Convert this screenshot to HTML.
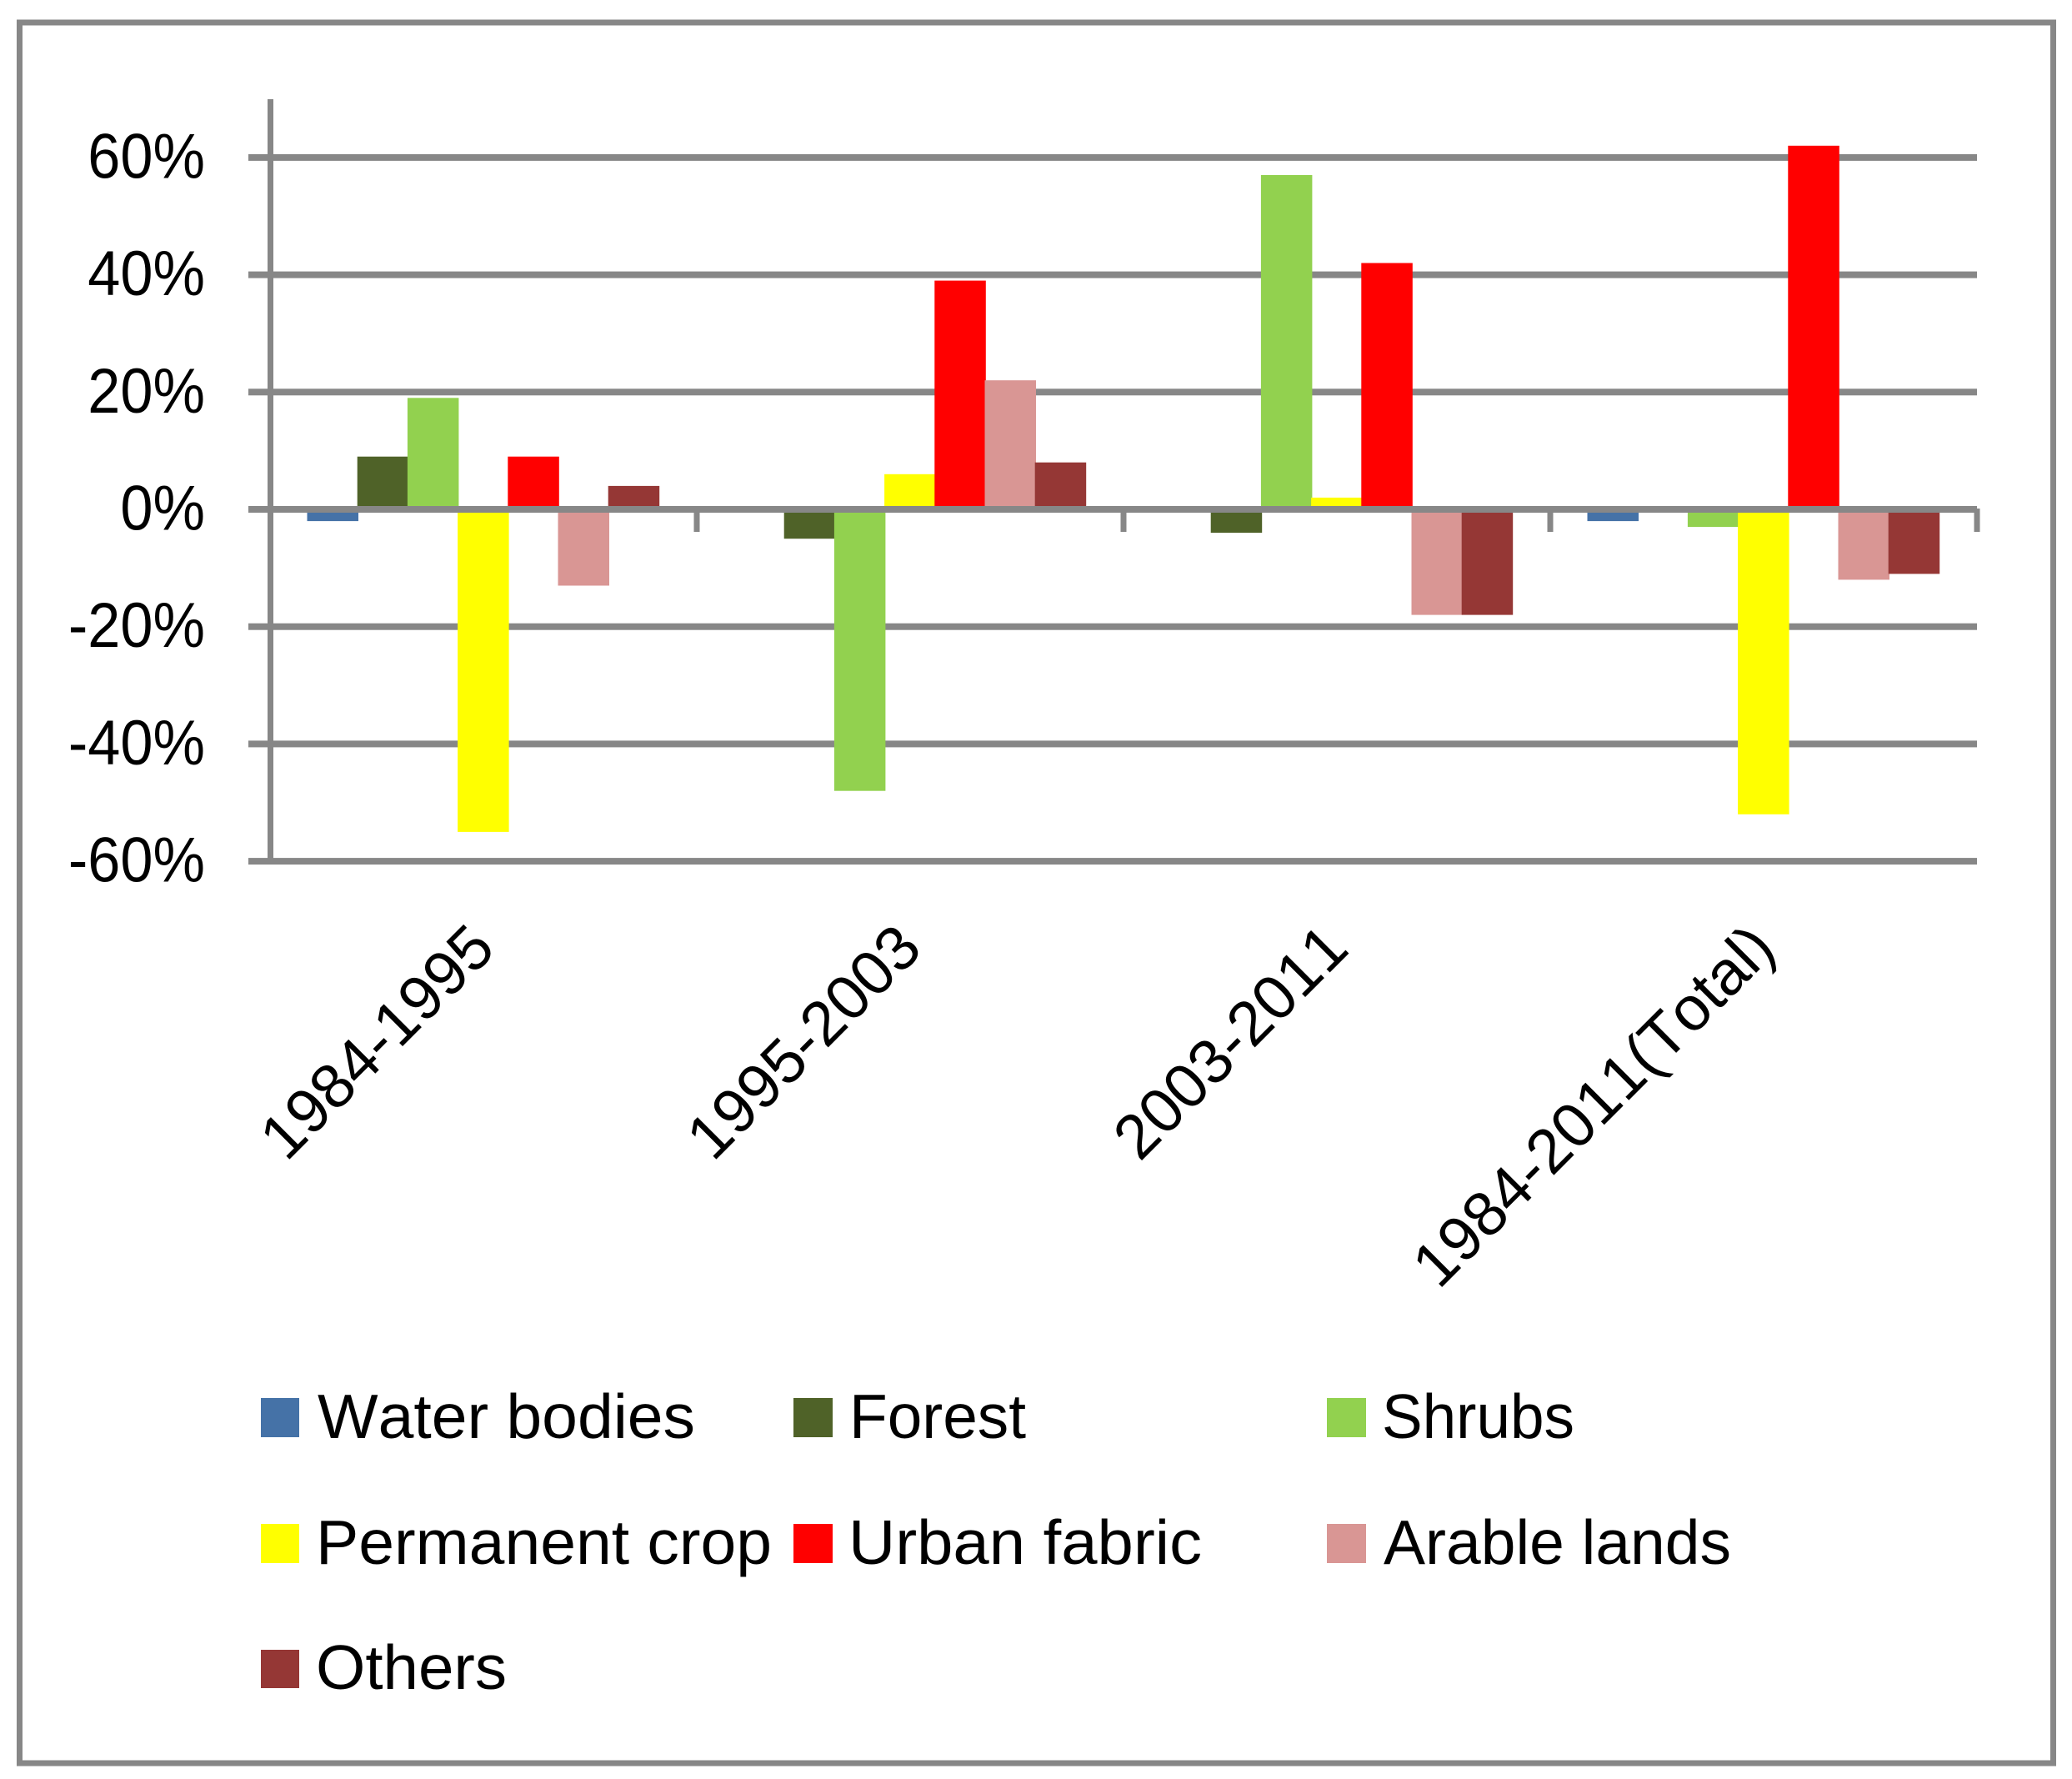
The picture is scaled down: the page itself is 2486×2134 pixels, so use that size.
<!DOCTYPE html>
<html lang="en">
<head>
<meta charset="utf-8">
<title>Land cover change by period</title>
<style>
html,body{margin:0;padding:0;background:#fff;}
svg{display:block;}
text{font-family:"Liberation Sans",sans-serif;fill:#000;font-kerning:none;}
</style>
</head>
<body>
<svg id="chart" xmlns="http://www.w3.org/2000/svg" width="2486" height="2134" viewBox="0 0 2486 2134">
  <rect x="23.5" y="27" width="2440" height="2088" fill="#fff" stroke="#878787" stroke-width="7"/>
  <g id="grid"></g>
  <rect x="321" y="119" width="7" height="917" fill="#878787"/>
  <g id="yticks"></g>
  <g id="bars"></g>
  <g id="xaxis"></g>
  <g id="xlabels"></g>

  <g font-size="75">
    <g>
      <rect x="313" y="1677" width="46" height="47" fill="#4572a7"/>
      <text x="381" y="1725" textLength="453" lengthAdjust="spacingAndGlyphs">Water bodies</text>
    </g>
    <g>
      <rect x="952" y="1677" width="47" height="47" fill="#4f6228"/>
      <text x="1019" y="1725" textLength="212" lengthAdjust="spacingAndGlyphs">Forest</text>
    </g>
    <g>
      <rect x="1592" y="1677" width="47" height="47" fill="#92d14f"/>
      <text x="1658" y="1725" textLength="231" lengthAdjust="spacingAndGlyphs">Shrubs</text>
    </g>
    <g>
      <rect x="313" y="1828" width="46" height="47" fill="#ffff00"/>
      <text x="379" y="1876" textLength="547" lengthAdjust="spacingAndGlyphs">Permanent crop</text>
    </g>
    <g>
      <rect x="952" y="1828" width="47" height="47" fill="#ff0000"/>
      <text x="1018" y="1876" textLength="424" lengthAdjust="spacingAndGlyphs">Urban fabric</text>
    </g>
    <g>
      <rect x="1592" y="1828" width="47" height="47" fill="#d99694"/>
      <text x="1660" y="1876" textLength="417" lengthAdjust="spacingAndGlyphs">Arable lands</text>
    </g>
    <g>
      <rect x="313" y="1979" width="46" height="46" fill="#953735"/>
      <text x="379" y="2026" textLength="229" lengthAdjust="spacingAndGlyphs">Others</text>
    </g>
  </g>
</svg>
<script>
const categories = ["1984-1995", "1995-2003", "2003-2011", "1984-2011(Total)"];
const tickValues = [60, 40, 20, 0, -20, -40, -60];
const tickLabels = ["60%", "40%", "20%", "0%", "-20%", "-40%", "-60%"];
const waterBodies = [-2, 0, 0, -2];
const forest = [9, -5, -4, 0];
const shrubs = [19, -48, 57, -3];
const permanentCrop = [-55, 6, 2, -52];
const urbanFabric = [9, 39, 42, 62];
const arableLands = [-13, 22, -18, -12];
const others = [4, 8, -18, -11];

const seriesList = [
  { name: "water-bodies", values: waterBodies, color: "#4572a7" },
  { name: "forest", values: forest, color: "#4f6228" },
  { name: "shrubs", values: shrubs, color: "#92d14f" },
  { name: "permanent-crop", values: permanentCrop, color: "#ffff00" },
  { name: "urban-fabric", values: urbanFabric, color: "#ff0000" },
  { name: "arable-lands", values: arableLands, color: "#d99694" },
  { name: "others", values: others, color: "#953735" }
];

const NS = "http://www.w3.org/2000/svg";
const GRAY = "#878787";
const plotLeft = 324;
const plotRight = 2372;
const zeroY = 611;
const pxPerPercent = 7.035;
const categoryWidth = (plotRight - plotLeft) / categories.length;
const barStep = 60.2;
const barWidth = 61.5;
const groupPad = 44.5;

function yScale(v) { return zeroY - v * pxPerPercent; }
function xCategory(i) { return plotLeft + i * categoryWidth; }
function xBar(i, s) { return xCategory(i) + groupPad + s * barStep; }

function make(tag, attrs, parent) {
  const el = document.createElementNS(NS, tag);
  Object.keys(attrs).forEach(function (k) { el.setAttribute(k, attrs[k]); });
  parent.appendChild(el);
  return el;
}

const gridGroup = document.getElementById("grid");
const yTickGroup = document.getElementById("yticks");
tickValues.forEach(function (v, i) {
  const y = yScale(v);
  if (v !== 0) {
    const line = make("rect", { x: 298, y: y - 4, width: plotRight - 298, height: 8, fill: GRAY }, gridGroup);
    
    
  }
  const label = make("text", { x: 246, y: y + 24.5, "font-size": 76, "text-anchor": "end" }, yTickGroup);
  label.textContent = tickLabels[i];
  
  
  const natural = label.getComputedTextLength();
  label.setAttribute("textLength", (natural * 0.925).toFixed(1));
  label.setAttribute("lengthAdjust", "spacingAndGlyphs");
});

const barGroup = document.getElementById("bars");
seriesList.forEach(function (series, s) {
  series.values.forEach(function (v, i) {
    if (v === 0) return;
    const y0 = yScale(0);
    const y1 = yScale(v);
    const bar = make("rect", {
      x: xBar(i, s).toFixed(1),
      y: Math.min(y0, y1).toFixed(1),
      width: barWidth,
      height: Math.abs(y1 - y0).toFixed(1),
      fill: series.color
    }, barGroup);
    
    
  });
});

const xAxisGroup = document.getElementById("xaxis");
const zeroLine = make("rect", { x: 298, y: zeroY - 4, width: plotRight - 298, height: 8, fill: GRAY }, xAxisGroup);


for (let i = 1; i <= categories.length; i++) {
  const tick = make("rect", { x: xCategory(i) - 3.5, y: zeroY - 1, width: 7, height: 28, fill: GRAY }, xAxisGroup);
  
  
}

const xLabelGroup = document.getElementById("xlabels");
categories.forEach(function (c, i) {
  const ex = xCategory(i) + categoryWidth / 2 + 17;
  const ey = 1141;
  const t = make("text", {
    x: ex, y: ey, "font-size": 75, "text-anchor": "end",
    transform: "rotate(-45 " + ex + " " + ey + ")"
  }, xLabelGroup);
  t.textContent = c;
  
  
});
</script>
</body>
</html>
